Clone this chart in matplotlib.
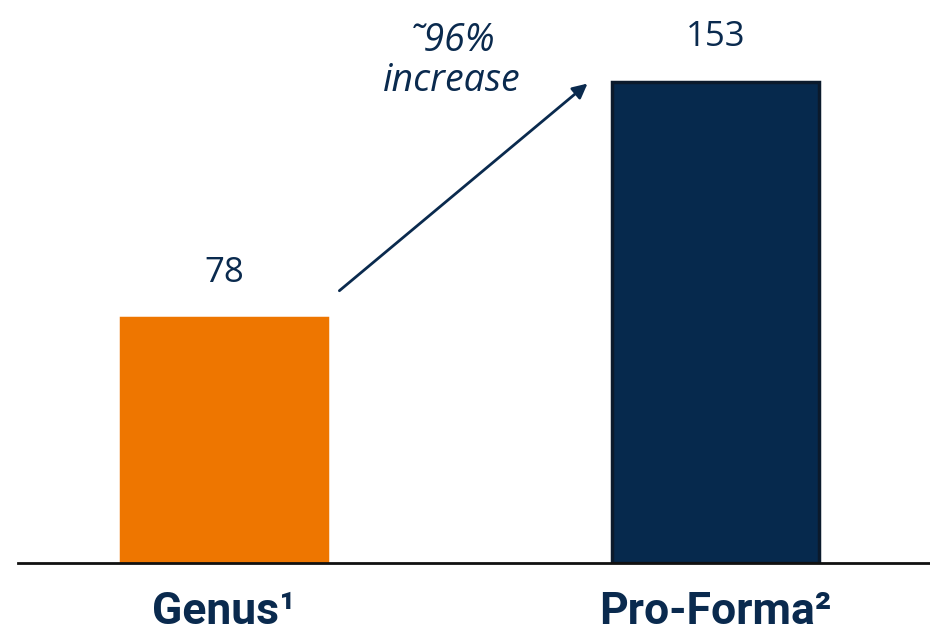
import matplotlib.pyplot as plt

# data
categories = ['Genus¹', 'Pro-Forma²']
values = [78, 153]
colors = ['#EE7600', '#06294D']
edges = ['#EE7600', '#0B1A2C']
note = '˜96%\nincrease'

navy = '#0A2A4E'

fig = plt.figure(figsize=(9.3, 6.35), dpi=100)
ax = fig.add_axes([18 / 930, 72 / 635, 912 / 930, 563 / 635])

x = list(range(len(categories)))
ax.bar(x, values, width=0.42, color=colors, edgecolor=edges, linewidth=2.5)

for xi, v in zip(x, values):
    ax.annotate(str(v), (xi, v), xytext=(0, 20), textcoords='offset points',
                ha='center', va='bottom', fontsize=25, color=navy,
                family='Open Sans')

ax.set_xlim(-0.42, 1.437)
ax.set_ylim(0, 179)

ax.set_xticks(x)
ax.set_xticklabels(categories, fontsize=32, fontweight='bold', color=navy,
                   family=['Roboto', 'DejaVu Sans'])
ax.tick_params(axis='x', length=0, pad=20)
ax.set_yticks([])
for s in ['top', 'right', 'left']:
    ax.spines[s].set_visible(False)
ax.spines['bottom'].set_linewidth(2)
ax.spines['bottom'].set_color('#111111')

# growth arrow
ax.annotate('', xy=(0.744, values[1]), xytext=(0.23, values[0] + 8),
            arrowprops=dict(arrowstyle='-|>', color=navy, lw=2,
                            mutation_scale=22))
fig.text(452 / 930, 1 - 61 / 635, note, ha='center', va='center',
         fontsize=27, style='italic', color=navy, family='Open Sans',
         linespacing=1.1)

fig.savefig('out.png', dpi=100)
